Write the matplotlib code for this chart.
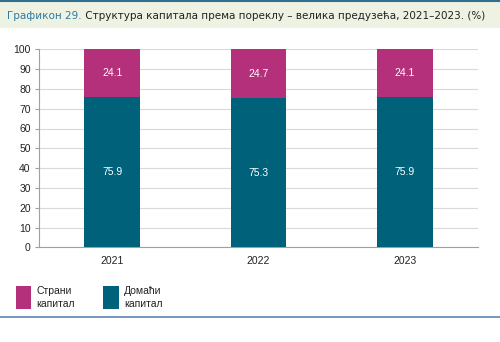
import matplotlib
matplotlib.use("Agg")
import matplotlib.pyplot as plt
from matplotlib.patches import Rectangle

years = ["2021", "2022", "2023"]
domestic = [75.9, 75.3, 75.9]
foreign = [24.1, 24.7, 24.1]
series_names = ["Страни\nкапитал", "Домаћи\nкапитал"]
title_prefix = "Графикон 29."
title_rest = " Структура капитала према пореклу – велика предузећа, 2021–2023. (%)"

c_foreign = "#B5307A"
c_domestic = "#00627A"

W, H = 500, 342
fig = plt.figure(figsize=(W / 100, H / 100), dpi=100)
fig.patch.set_facecolor("white")

# title band and frame lines
fig.add_artist(Rectangle((0, 1 - 28 / H), 1, 26 / H, transform=fig.transFigure,
                         facecolor="#EEF2E2", edgecolor="none"))
fig.add_artist(plt.Line2D([0, 1], [1 - 1 / H, 1 - 1 / H], transform=fig.transFigure,
                          color="#2F6F8F", lw=1.5))
fig.add_artist(plt.Line2D([0, 1], [1 - 316.5 / H, 1 - 316.5 / H], transform=fig.transFigure,
                          color="#5A86B0", lw=1.2))

fs = 8.6
t1 = fig.text(7 / W, 1 - 16 / H, title_prefix, color="#2B7BA3", fontsize=fs,
              va="center", ha="left", family="DejaVu Sans")
t2 = fig.text(0, 1 - 16 / H, title_rest, color="#222222", fontsize=fs,
              va="center", ha="left", family="DejaVu Sans")
fig.canvas.draw()
r = fig.canvas.get_renderer()
total = t1.get_window_extent(r).width + t2.get_window_extent(r).width
fs = fs * 477 / total
t1.set_fontsize(fs)
t2.set_fontsize(fs)
fig.canvas.draw()
t2.set_x(t1.get_window_extent(r).x1 / W)

ax = fig.add_axes([39 / W, 1 - 247.3 / H, (478 - 39) / W, (247.3 - 49.3) / H])
x = range(len(years))
bw = 0.38
ax.bar(x, domestic, width=bw, color=c_domestic, zorder=3)
ax.bar(x, foreign, width=bw, bottom=domestic, color=c_foreign, zorder=3)
for i in x:
    ax.text(i, domestic[i] / 2, f"{domestic[i]:.1f}", ha="center", va="center",
            color="white", fontsize=7.5, family="Liberation Sans")
    ax.text(i, domestic[i] + foreign[i] / 2, f"{foreign[i]:.1f}", ha="center", va="center",
            color="white", fontsize=7.5, family="Liberation Sans")

ax.set_xlim(-0.5, 2.5)
ax.set_ylim(0, 100)
ax.set_yticks(range(0, 101, 10))
ax.set_xticks(list(x))
ax.set_xticklabels(years)
ax.yaxis.grid(True, color="#D9D9D9", lw=0.8, zorder=0)
for s in ["top", "right"]:
    ax.spines[s].set_visible(False)
ax.spines["left"].set_color("#A0A0A0")
ax.spines["bottom"].set_color("#A0A0A0")
ax.tick_params(axis="y", length=3, color="#A0A0A0", labelsize=7.5, pad=3, labelcolor="#222222")
ax.tick_params(axis="x", length=0, labelsize=7.5, pad=6, labelcolor="#222222")
for lab in ax.get_xticklabels() + ax.get_yticklabels():
    lab.set_family("Liberation Sans")

# legend
leg = [(15.5, c_foreign, series_names[0]), (103, c_domestic, series_names[1])]
for x0, col, name in leg:
    fig.add_artist(Rectangle((x0 / W, 1 - 309 / H), 15.5 / W, 23 / H, transform=fig.transFigure,
                             facecolor=col, edgecolor="none"))
    fig.text((x0 + 21) / W, 1 - 297.5 / H, name, fontsize=7.5, va="center", ha="left",
             color="#222222", family="Liberation Sans", linespacing=1.35)

fig.savefig("out.png", dpi=100)
